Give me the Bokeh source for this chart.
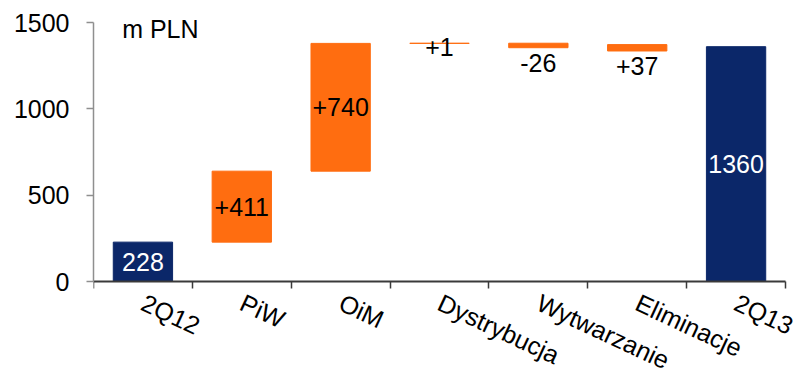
import math

from bokeh.core.properties import value
from bokeh.embed import file_html
from bokeh.models import ColumnDataSource, FixedTicker, Range1d
from bokeh.plotting import figure
from bokeh.resources import INLINE

# Quarterly bridge of EBITDA by segment, m PLN
categories = ["2Q12", "PiW", "OiM", "Dystrybucja", "Wytwarzanie", "Eliminacje", "2Q13"]
values = [228, 411, 740, 1, -26, 37, 1360]
is_total = [True, False, False, False, False, False, True]
# lower edge of every step of the bridge
bar_base = [0, 228, 639, 1379, 1354, 1335, 0]
y_ticks = [0, 500, 1000, 1500]
unit_label = "m PLN"

NAVY = "#0B2769"
ORANGE = "#FF6D10"
FONT = "Liberation Sans"
FS = "25px"

W, H = 794, 371
LEFT = 93            # room for the value axis
AXIS_LEN = 692       # length of the category axis in px
ZERO_PX = 281        # distance of the zero line from the top
TOP_PX = 22          # distance of the 1500 tick from the top
Y_MAX = 1500
N = len(categories)
TICK_OUT = 7

px_per_unit = (ZERO_PX - TOP_PX) / Y_MAX
cat_px = AXIS_LEN / N

xs = [i + 0.5 for i in range(N)]
lows = list(bar_base)
highs = [b + abs(v) for b, v in zip(bar_base, values)]
colors = [NAVY if t else ORANGE for t in is_total]
texts = [str(v) if t else f"{v:+d}" for v, t in zip(values, is_total)]
text_colors = ["white" if t else "black" for t in is_total]


def label_y(lo, hi):
    """Centre the value in tall bars, put it just under short ones."""
    h_px = (hi - lo) * px_per_unit
    if h_px >= 20:
        return (lo + hi) / 2
    if h_px < 1:
        return (lo + hi) / 2 - 4 / px_per_unit
    return lo - 15 / px_per_unit


src = ColumnDataSource(dict(
    x=xs, bottom=lows, top=highs, color=colors,
    text=texts, text_color=text_colors,
    ty=[label_y(lo, hi) for lo, hi in zip(lows, highs)],
))

# the plot area reaches the canvas edges so the slanted names stay visible
p = figure(
    width=W, height=H,
    x_range=Range1d(0, N + (W - LEFT - AXIS_LEN) / cat_px),
    y_range=Range1d(-(H - ZERO_PX) / px_per_unit, Y_MAX + TOP_PX / px_per_unit),
    output_backend="svg", toolbar_location=None,
    min_border_left=LEFT, min_border_right=0,
    min_border_top=0, min_border_bottom=0,
)
p.background_fill_color = "white"
p.border_fill_color = "white"
p.outline_line_color = None
p.xgrid.visible = False
p.ygrid.visible = False

p.vbar(x="x", bottom="bottom", top="top", width=0.6, source=src,
       fill_color="color", line_color="color", line_width=1)

p.text(x="x", y="ty", text="text", source=src, text_color="text_color",
       text_align="center", text_baseline="middle",
       text_font=value(FONT), text_font_size=FS)

# unit caption in the upper left corner
p.text(x=[0.29], y=[1463], text=[unit_label], text_color="black",
       text_align="left", text_baseline="middle",
       text_font=value(FONT), text_font_size=FS)

# category axis on the zero line, ticks between the categories
xa = p.xaxis[0]
xa.fixed_location = 0
xa.bounds = (0, N)
xa.ticker = FixedTicker(ticks=[], minor_ticks=list(range(N + 1)))
xa.major_tick_line_color = None
xa.major_label_text_font_size = "0px"
xa.major_label_standoff = 0
xa.minor_tick_in = 0
xa.minor_tick_out = TICK_OUT
xa.minor_tick_line_color = "#3a3a3a"
xa.minor_tick_line_width = 1.5
xa.axis_line_color = "#3a3a3a"
xa.axis_line_width = 2

# slanted category names starting under the centre of each bar
name_x = [x + 6 / cat_px for x in xs]
name_y = -(TICK_OUT + 0) / px_per_unit
name_src = ColumnDataSource(dict(x=name_x, y=[name_y] * N, text=categories))
p.text(x="x", y="y", text="text", source=name_src,
       angle=math.radians(-25), text_align="left", text_baseline="top",
       text_color="black", text_font=value(FONT), text_font_size=FS)

ya = p.yaxis[0]
ya.bounds = (0, Y_MAX)
ya.ticker = FixedTicker(ticks=y_ticks)
ya.minor_tick_line_color = None
ya.major_tick_in = 0
ya.major_tick_out = TICK_OUT
ya.major_tick_line_color = "#8f8f8f"
ya.major_tick_line_width = 1.5
ya.axis_line_color = "#8f8f8f"
ya.axis_line_width = 1.5
ya.major_label_standoff = 17
ya.major_label_text_font = FONT
ya.major_label_text_font_size = FS
ya.major_label_text_color = "black"

open("out.html", "w").write(file_html(p, INLINE))
